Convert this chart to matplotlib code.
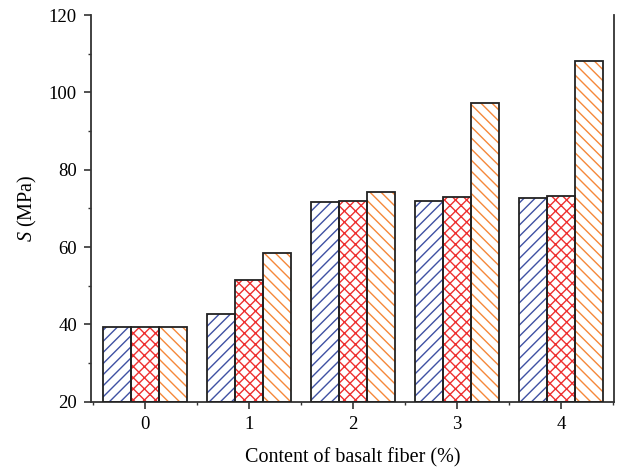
import matplotlib
matplotlib.use("Agg")
import matplotlib.pyplot as plt
import numpy as np
from matplotlib.ticker import MultipleLocator

plt.rcParams['font.family'] = ['Liberation Serif', 'DejaVu Serif']
plt.rcParams['mathtext.fontset'] = 'custom'
plt.rcParams['mathtext.it'] = 'Liberation Serif:italic'
plt.rcParams['mathtext.rm'] = 'Liberation Serif'
plt.rcParams['hatch.linewidth'] = 1.0

categories = ["0", "1", "2", "3", "4"]
series_a = [39.4, 42.6, 71.6, 72.0, 72.6]
series_b = [39.4, 51.6, 72.0, 72.9, 73.3]
series_c = [39.4, 58.4, 74.3, 97.2, 108.0]

colors = ["#3f51a3", "#ee3030", "#f5883a"]
hatches = ["///", "xxx", "\\\\\\"]

fig = plt.figure(figsize=(6.18, 4.70), dpi=100)
ax = fig.add_axes([0.147, 0.145, 0.847, 0.823])

x = np.arange(len(categories))
w = 0.27
for i, (vals, c, h) in enumerate(zip([series_a, series_b, series_c], colors, hatches)):
    pos = x + (i - 1) * w
    ax.bar(pos, np.array(vals) - 20, bottom=20, width=w, facecolor="white",
           edgecolor=c, hatch=h, linewidth=0, zorder=2)
    ax.bar(pos, np.array(vals) - 20, bottom=20, width=w, facecolor="none",
           edgecolor="#222222", linewidth=1.3, zorder=3)

ax.set_xlim(-0.52, 4.51)
ax.set_ylim(20, 120)
ax.set_xticks(x)
ax.set_xticklabels(categories)
ax.xaxis.set_minor_locator(MultipleLocator(0.5))
ax.yaxis.set_major_locator(MultipleLocator(20))
ax.yaxis.set_minor_locator(MultipleLocator(10))
ax.tick_params(axis="both", which="major", direction="out", length=5, width=1.2,
               labelsize=13.5, color="#333333", pad=5)
ax.tick_params(axis="both", which="minor", direction="out", length=2.5, width=1.0,
               color="#333333")
for side in ["left", "bottom", "right"]:
    ax.spines[side].set_linewidth(1.3)
    ax.spines[side].set_color("#333333")
ax.spines["top"].set_visible(False)

ax.set_xlabel("Content of basalt fiber (%)", fontsize=14.5)
ax.set_ylabel("$S$ (MPa)", fontsize=14.5)
ax.yaxis.set_label_coords(-0.10, 0.5)
ax.xaxis.set_label_coords(0.5, -0.12)

fig.savefig("out.png", dpi=100)
